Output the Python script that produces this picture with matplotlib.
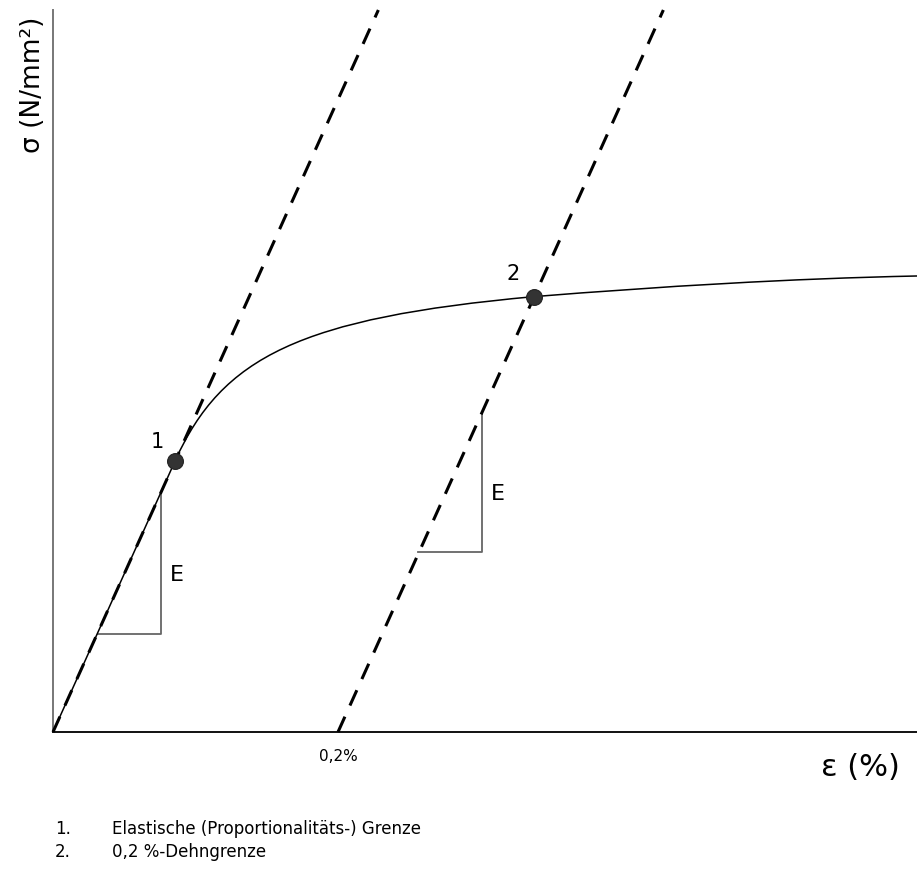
import numpy as np
import matplotlib
matplotlib.use('Agg')
import matplotlib.pyplot as plt
from matplotlib.path import Path
from matplotlib.patches import PathPatch

# Spannungs-Dehnungs-Kurve (Dehnung in %, Spannung in N/mm²)
# Knoten + Bezier-Kontrollpunkte: Ursprung, Punkt 1, Knick, Punkt 2, Ende
curve_x = [0.0, 0.0858, 0.1186, 0.1733, 0.3375, 0.4260, 0.5172, 0.6063]
curve_y = [0.0, 188.0, 259.7, 286.7, 301.5, 308.5, 314.0, 315.8]
curve_codes = [Path.MOVETO, Path.LINETO,
               Path.CURVE4, Path.CURVE4, Path.CURVE4,
               Path.CURVE4, Path.CURVE4, Path.CURVE4]

E_MOD = 2190.0          # Steigung der Hookeschen Geraden
OFFSET = 0.2            # 0,2 % Dehngrenze
Y_MAX = 500.0
X_MAX = 0.6063

# markierte Punkte
pt_strain = [0.0858, 0.3375]
pt_stress = [188.0, 301.5]
pt_labels = ['1', '2']

# Steigungsdreiecke: (x links, x rechts, y unten, y oben)
tri_x0 = [0.0316, 0.2561]
tri_x1 = [0.0758, 0.3011]
tri_y0 = [67.9, 124.7]
tri_y1 = [166.2, 220.9]

legend_lines = ['Elastische (Proportionalitäts-) Grenze', '0,2 %-Dehngrenze']

fig = plt.figure(figsize=(9.17, 8.73), dpi=100)
ax = fig.add_axes([53 / 917, (873 - 732) / 873, 1 - 53 / 917, 722 / 873])
ax.set_xlim(0, X_MAX)
ax.set_ylim(0, Y_MAX)

# Kurve
curve = Path(np.column_stack([curve_x, curve_y]), curve_codes)
ax.add_patch(PathPatch(curve, facecolor='none', edgecolor='black', lw=1.1,
                       zorder=3, clip_on=False))

# Hookesche Geraden (gestrichelt)
for off in [0.0, OFFSET]:
    xs = np.array([off, off + Y_MAX / E_MOD])
    ax.plot(xs, E_MOD * (xs - off), color='black', lw=2.2,
            dashes=(5.5, 4), zorder=4, clip_on=False)

# Steigungsdreiecke
for x0, x1, y0, y1 in zip(tri_x0, tri_x1, tri_y0, tri_y1):
    ax.plot([x0, x1, x1], [y0, y0, y1], color='#666666', lw=1.3, zorder=2)
    ax.text(x1 + 0.011, (y0 + y1) / 2 - 8, 'E', fontsize=16,
            ha='center', va='center', color='black')

# Punkte 1 und 2
ax.scatter(pt_strain, pt_stress, s=130, color='#333333', zorder=6,
           edgecolors='#222222', linewidths=0.8)
ax.text(pt_strain[0] - 0.0125, pt_stress[0] + 13, pt_labels[0], fontsize=15,
        ha='center', va='center')
ax.text(pt_strain[1] - 0.0145, pt_stress[1] + 16, pt_labels[1], fontsize=15,
        ha='center', va='center')

# Achsen
for s in ['top', 'right']:
    ax.spines[s].set_visible(False)
ax.spines['left'].set_color('#777777')
ax.spines['left'].set_linewidth(1.4)
ax.spines['bottom'].set_color('#111111')
ax.spines['bottom'].set_linewidth(1.4)
ax.set_xticks([])
ax.set_yticks([])

ax.text(OFFSET, -12, '0,2%', fontsize=11, ha='center', va='top',
        family=['Liberation Sans Narrow', 'DejaVu Sans'])

fig.text(33 / 917, 1 - 85 / 873, 'σ (N/mm²)', fontsize=19, rotation=90,
         ha='center', va='center')
fig.text(860 / 917, 1 - 768 / 873, 'ε (%)', fontsize=22,
         ha='center', va='center')

# Legende unten
for i, txt in enumerate(legend_lines):
    y = 1 - (829 + 23 * i) / 873
    fig.text(55 / 917, y, f'{i + 1}.', fontsize=12, ha='left', va='center')
    fig.text(112 / 917, y, txt, fontsize=12, ha='left', va='center')

fig.savefig('out.png', dpi=100)
